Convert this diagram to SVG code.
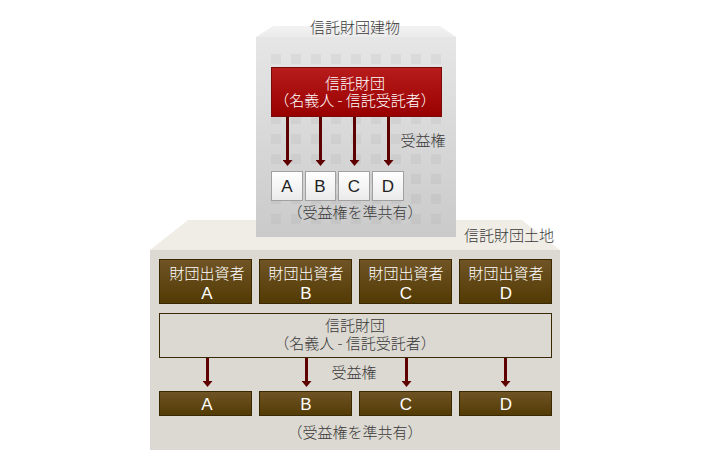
<svg xmlns="http://www.w3.org/2000/svg" width="710" height="460" viewBox="0 0 710 460">
<style>
text{font-family:"Noto Sans CJK JP","Liberation Sans",sans-serif;font-size:15px;text-anchor:middle;font-weight:300}
.d{fill:#3a3a3a}.w{fill:#fff}
text.l{font-family:"Liberation Sans",Arial,sans-serif;font-size:17px;font-weight:400}
.k{fill:#222}
.inv{fill:url(#brown);stroke:#3a2800;stroke-width:1}
.cell{fill:url(#white);stroke:#a0a0a0;stroke-width:1}
</style>
<defs>
<linearGradient id="bld" x1="0" y1="0" x2="0" y2="1"><stop offset="0" stop-color="#e6e6e6"/><stop offset="1" stop-color="#cacaca"/></linearGradient>
<linearGradient id="top" x1="0" y1="0" x2="0" y2="1"><stop offset="0" stop-color="#f2f2f2"/><stop offset="1" stop-color="#ebebeb"/></linearGradient>
<linearGradient id="red" x1="0" y1="0" x2="0" y2="1"><stop offset="0" stop-color="#b81c1c"/><stop offset="1" stop-color="#980000"/></linearGradient>
<linearGradient id="brown" x1="0" y1="0" x2="0" y2="1"><stop offset="0" stop-color="#705426"/><stop offset="1" stop-color="#523a03"/></linearGradient>
<linearGradient id="white" x1="0" y1="0" x2="0" y2="1"><stop offset="0" stop-color="#fff"/><stop offset="1" stop-color="#eaeaea"/></linearGradient>
<marker id="tip" markerUnits="userSpaceOnUse" markerWidth="10" markerHeight="6" refX="5" refY="0" orient="0" viewBox="0 0 10 6"><path d="M0 0H10L5 6Z" fill="#5f0000"/></marker>
<pattern id="wins" x="271" y="54" width="20" height="20" patternUnits="userSpaceOnUse"><rect fill="#777" fill-opacity=".09" width="10" height="10"/></pattern>
</defs>
<g id="ground"><path d="M150 250L188 220H522L560 250Z" fill="#f0ede6"/><rect x="150" y="250" width="410" height="200" fill="#dcd9d2"/></g>
<g id="building"><path d="M256 37L273 26H440L456 37Z" fill="url(#top)"/><rect x="256" y="37" width="200" height="200" fill="url(#bld)"/><rect x="271" y="54" width="170" height="170" fill="url(#wins)"/></g>
<g id="connectors" stroke="#5f0000" stroke-width="3" fill="none">
<path d="M287.500 117V160" marker-end="url(#tip)"/><path d="M320.500 117V160" marker-end="url(#tip)"/><path d="M354.500 117V160" marker-end="url(#tip)"/><path d="M388.500 117V160" marker-end="url(#tip)"/>
<path d="M207.500 358V381" marker-end="url(#tip)"/><path d="M306.500 358V381" marker-end="url(#tip)"/><path d="M406.500 358V381" marker-end="url(#tip)"/><path d="M505.500 358V381" marker-end="url(#tip)"/>
</g>
<g id="building-label"><text class="d" x="355" y="33">信託財団建物</text></g>
<g id="trust-top"><rect x="271.500" y="67.500" width="170" height="49" fill="url(#red)" stroke="#7a0a0a"/><text class="w" x="355" y="89">信託財団</text><text class="w" x="355" y="106">（名義人 - 信託受託者）</text></g>
<g id="benefit-top"><text class="d" x="423" y="146">受益権</text></g>
<g id="cell-a"><rect class="cell" x="271.500" y="171.500" width="31" height="29"/><text class="l k" x="287" y="192">A</text></g>
<g id="cell-b"><rect class="cell" x="305.500" y="171.500" width="30" height="29"/><text class="l k" x="320" y="192">B</text></g>
<g id="cell-c"><rect class="cell" x="338.500" y="171.500" width="31" height="29"/><text class="l k" x="354" y="192">C</text></g>
<g id="cell-d"><rect class="cell" x="372.500" y="171.500" width="31" height="29"/><text class="l k" x="388" y="192">D</text></g>
<g id="share-top"><text class="d" x="355" y="218">（受益権を準共有）</text></g>
<g id="land-label"><text class="d" x="509" y="241">信託財団土地</text></g>
<g id="investor-a"><rect class="inv" x="159.500" y="259.500" width="92" height="44"/><text class="w" x="207" y="279">財団出資者</text><text class="w l" x="207" y="299">A</text></g>
<g id="investor-b"><rect class="inv" x="259.500" y="259.500" width="92" height="44"/><text class="w" x="306" y="279">財団出資者</text><text class="w l" x="306" y="299">B</text></g>
<g id="investor-c"><rect class="inv" x="359.500" y="259.500" width="92" height="44"/><text class="w" x="406" y="279">財団出資者</text><text class="w l" x="406" y="299">C</text></g>
<g id="investor-d"><rect class="inv" x="459.500" y="259.500" width="92" height="44"/><text class="w" x="506" y="279">財団出資者</text><text class="w l" x="506" y="299">D</text></g>
<g id="trust-bottom"><rect x="159.500" y="313.500" width="392" height="44" fill="none" stroke="#3a2800"/><text class="d" x="355" y="331">信託財団</text><text class="d" x="355" y="349">（名義人 - 信託受託者）</text></g>
<g id="benefit-bottom"><text class="d" x="354" y="378">受益権</text></g>
<g id="share-a"><rect class="inv" x="159.500" y="391.500" width="92" height="24"/><text class="w l" x="207" y="410">A</text></g>
<g id="share-b"><rect class="inv" x="259.500" y="391.500" width="92" height="24"/><text class="w l" x="306" y="410">B</text></g>
<g id="share-c"><rect class="inv" x="359.500" y="391.500" width="92" height="24"/><text class="w l" x="406" y="410">C</text></g>
<g id="share-d"><rect class="inv" x="459.500" y="391.500" width="92" height="24"/><text class="w l" x="506" y="410">D</text></g>
<g id="share-bottom"><text class="d" x="355" y="438">（受益権を準共有）</text></g>
</svg>
